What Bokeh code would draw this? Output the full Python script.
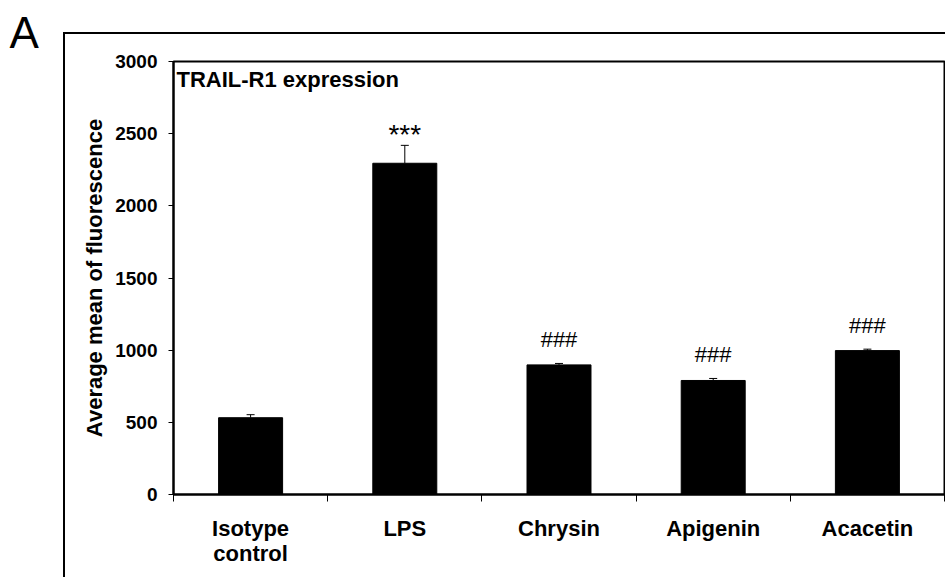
from bokeh.plotting import figure
from bokeh.models import (ColumnDataSource, Range1d, FixedTicker, Whisker, TeeHead,
                          Label, Title, InlineStyleSheet)
from bokeh.core.properties import value
from bokeh.embed import file_html
from bokeh.resources import INLINE

categories = ["Isotype\ncontrol", "LPS", "Chrysin", "Apigenin", "Acacetin"]
means = [532, 2295, 898, 790, 997]
errors = [21, 124, 10, 14, 10]
sig_labels = ["", "***", "###", "###", "###"]
y_ticks = [0, 500, 1000, 1500, 2000, 2500, 3000]

FONT = "Liberation Sans"

xs = [i + 0.5 for i in range(len(categories))]
uppers = [m + e for m, e in zip(means, errors)]
offsets = [-11 if s == "***" else -24 for s in sig_labels]
sizes = ["28px" if s == "***" else "22px" for s in sig_labels]

src = ColumnDataSource(dict(x=xs, top=means, upper=uppers, lab=sig_labels,
                            yoff=offsets, fs=sizes))

p = figure(width=945, height=577, output_backend="svg", toolbar_location=None,
           x_range=Range1d(0, len(categories)), y_range=Range1d(0, 3000),
           min_border_left=173, min_border_right=1, min_border_top=60,
           min_border_bottom=83, background_fill_color="white",
           border_fill_color="white")

p.xgrid.visible = False
p.ygrid.visible = False
p.outline_line_color = "black"
p.outline_line_width = 2

p.vbar(x="x", top="top", width=0.415, bottom=0, source=src,
       fill_color="black", line_color="black")

w = Whisker(base="x", upper="upper", lower="top", source=src,
            line_color="black", line_width=1,
            upper_head=TeeHead(size=8, line_color="black", line_width=1),
            lower_head=None)
p.add_layout(w)

p.text(x="x", y="upper", text="lab", source=src, y_offset="yoff",
       text_align="center", text_baseline="alphabetic",
       text_font=value(FONT), text_font_size="fs", text_color="black")

# axes
xa = p.xaxis[0]
xa.ticker = FixedTicker(ticks=xs, minor_ticks=list(range(len(categories) + 1)))
xa.major_label_overrides = {x: c for x, c in zip(xs, categories)}
xa.major_tick_out = 0
xa.major_tick_in = 0
xa.minor_tick_out = 7
xa.minor_tick_in = 0
xa.minor_tick_line_color = "black"
xa.axis_line_width = 2
xa.axis_line_color = "black"
xa.major_label_text_font = FONT
xa.major_label_text_font_style = "bold"
xa.major_label_text_font_size = "22px"
xa.major_label_text_color = "black"
xa.major_label_text_line_height = 1.0
xa.major_label_standoff = 14

ya = p.yaxis[0]
ya.ticker = FixedTicker(ticks=y_ticks)
ya.minor_tick_line_color = None
ya.major_tick_out = 5
ya.major_tick_in = 0
ya.major_tick_line_color = "black"
ya.axis_line_width = 2
ya.axis_line_color = "black"
ya.major_label_text_font = FONT
ya.major_label_text_font_style = "bold"
ya.major_label_text_font_size = "19px"
ya.major_label_text_color = "black"
ya.major_label_standoff = 11
ya.axis_label = "Average mean of fluorescence"
ya.axis_label_text_font = FONT
ya.axis_label_text_font_style = "bold"
ya.axis_label_text_font_size = "22px"
ya.axis_label_text_color = "black"
ya.axis_label_standoff = 5

# in-plot title
p.add_layout(Label(x=0, y=3000, text="TRAIL-R1 expression", x_offset=3, y_offset=-5,
                   text_baseline="top", text_font=FONT, text_font_style="bold",
                   text_font_size="22px", text_color="black"))

# panel letter
p.add_layout(Title(text="A", align="left", offset=-164, standoff=10,
                   text_font=FONT, text_font_style="normal",
                   text_font_size="44px", text_color="black"), "above")

# outer panel frame (top and left edges)
p.stylesheets = [InlineStyleSheet(css="""
:host { position: relative; }
:host::before {
  content: "";
  position: absolute;
  left: 63px; top: 32px; right: 0px; bottom: 0px;
  border-top: 2px solid black;
  border-left: 2px solid black;
  pointer-events: none;
  z-index: 1000;
}
""")]

open("out.html", "w").write(file_html(p, INLINE))
